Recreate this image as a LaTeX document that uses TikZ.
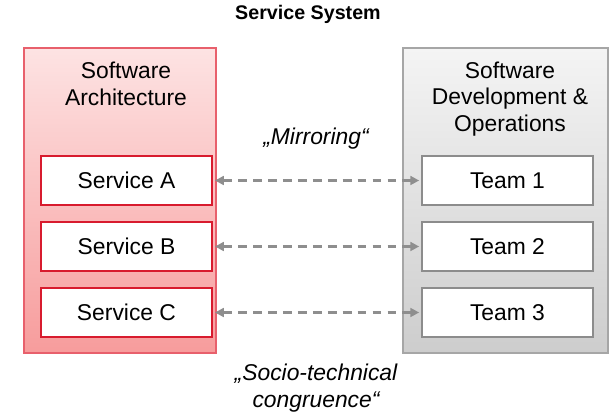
\documentclass[tikz,border=0pt]{standalone}
\usepackage{fontspec}
\setmainfont{Liberation Sans}
\usetikzlibrary{arrows.meta}

\definecolor{archtop}{HTML}{FDE3E3}
\definecolor{archbottom}{HTML}{F79C9C}
\definecolor{archline}{HTML}{E8606C}
\definecolor{servline}{HTML}{D81B2E}
\definecolor{opstop}{HTML}{F4F4F4}
\definecolor{opsbottom}{HTML}{CDCDCD}
\definecolor{opsline}{HTML}{A6A6A6}
\definecolor{teamline}{HTML}{8C8C8C}
\definecolor{mirrorline}{HTML}{8E8E8E}

\tikzset{
  servicebox/.style={draw=servline, line width=1.4pt, fill=white, minimum width=3.42cm, minimum height=0.98cm, font=\fontsize{13}{15}\selectfont},
  teambox/.style={draw=teamline, line width=1.2pt, fill=white, minimum width=3.42cm, minimum height=0.98cm, font=\fontsize{13}{15}\selectfont},
  mirror/.style={draw=mirrorline, line width=1.4pt, dash pattern=on 5pt off 3.5pt, {Triangle[length=5pt,width=5pt]}-{Triangle[length=5pt,width=5pt]}, shorten <=1pt, shorten >=1pt},
}

\begin{document}
\begin{tikzpicture}

\useasboundingbox (0,0) rectangle (12.32,8.28);

\node[font=\bfseries\fontsize{11.2}{13}\selectfont] (title) at (6.16,8.0) {Service System}; % Heading

% Software architecture side
\shade[top color=archtop, bottom color=archbottom, draw=archline, line width=0.6pt] (0.48,1.22) rectangle (4.32,7.32);
\node[align=center, font=\fontsize{13}{15.3}\selectfont] (arch) at (2.52,6.61) {Software\\Architecture};

% Development & operations side
\shade[top color=opstop, bottom color=opsbottom, draw=opsline, line width=0.6pt] (8.06,1.22) rectangle (12.16,7.32);
\node[align=center, font=\fontsize{13}{15.3}\selectfont] (ops) at (10.2,6.3) {Software\\Development \&\\Operations};

\node[servicebox] (sa) at (2.53,4.67) {Service A};
\node[servicebox] (sb) at (2.53,3.35) {Service B};
\node[servicebox] (sc) at (2.53,2.03) {Service C};

\node[teambox] (t1) at (10.15,4.67) {Team 1};
\node[teambox] (t2) at (10.15,3.35) {Team 2};
\node[teambox] (t3) at (10.15,2.03) {Team 3};

% Mirroring links
\draw[mirror] (sa) -- (t1);
\draw[mirror] (sb) -- (t2);
\draw[mirror] (sc) -- (t3);

\node[font=\itshape\fontsize{13}{15}\selectfont] (mirroring) at (6.32,5.5) {„Mirroring“};
\node[align=center, font=\itshape\fontsize{13}{15.3}\selectfont] (congruence) at (6.32,0.52) {„Socio-technical\\congruence“};

\end{tikzpicture}
\end{document}
